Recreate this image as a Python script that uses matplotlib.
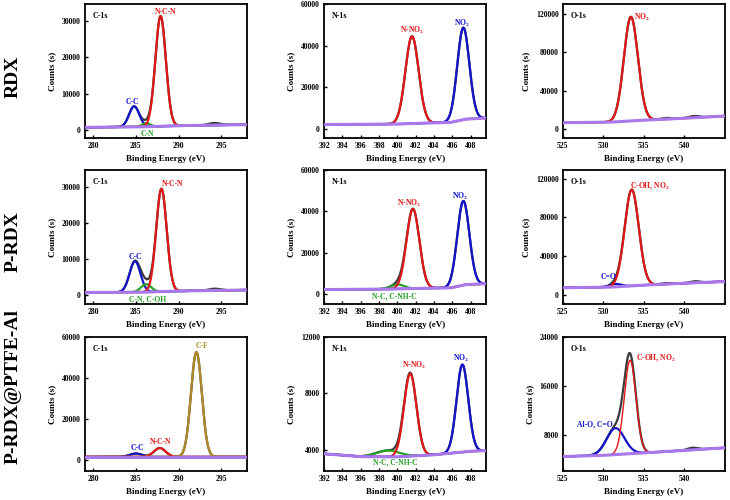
import numpy as np
import matplotlib
matplotlib.use('Agg')
import matplotlib.pyplot as plt

plt.rcParams['font.family'] = ['Liberation Serif', 'DejaVu Serif']
plt.rcParams['font.weight'] = 'bold'
plt.rcParams['mathtext.fontset'] = 'stix'
plt.rcParams['mathtext.default'] = 'bf'

BLUE = '#1414c8'
RED = '#e01818'
GREEN = '#28a028'
OLIVE = '#b08a2a'
PURPLE = '#a878ec'
DATA = '#3a3a3a'

samples = ['RDX', 'P-RDX', 'P-RDX@PTFE-Al']
regions = ['C-1s', 'N-1s', 'O-1s']

# axis ranges and ticks per region
xlims = {'C-1s': (279, 298), 'N-1s': (392, 409.7), 'O-1s': (525, 545)}
xticks = {'C-1s': [280, 285, 290, 295],
          'N-1s': [392, 394, 396, 398, 400, 402, 404, 406, 408],
          'O-1s': [525, 530, 535, 540]}
ylims = [[(-2300, 34800), (-4500, 60000), (-9000, 130000)],
         [(-2500, 34800), (-4800, 60000), (-9500, 129000)],
         [(-5300, 60000), (2500, 12000), (2200, 24000)]]
yticks = [[[0, 10000, 20000, 30000], [0, 20000, 40000, 60000], [0, 40000, 80000, 120000]],
          [[0, 10000, 20000, 30000], [0, 20000, 40000, 60000], [0, 40000, 80000, 120000]],
          [[0, 20000, 40000, 60000], [4000, 8000, 12000], [8000, 16000, 24000]]]

# Shirley-type background, read at a few energies
bg_x = [[[279, 286, 288.5, 291, 298], [392, 400, 404, 405.8, 407.5, 409.7], [525, 531, 535, 540, 545]],
        [[279, 286, 288.5, 291, 298], [392, 399, 404, 405.8, 407.5, 409.7], [525, 531, 535, 540, 545]],
        [[279, 290, 298], [392, 396, 400, 404, 408, 409.7], [525, 530, 535, 540, 545]]]
bg_y = [[[650, 800, 1000, 1150, 1400], [2000, 2200, 2800, 3000, 4600, 5100], [6900, 7500, 9500, 11500, 13800]],
        [[700, 800, 1000, 1150, 1400], [2200, 2400, 2900, 3000, 4600, 5000], [7300, 8000, 10000, 12000, 13700]],
        [[1600, 1600, 1600], [3720, 3520, 3500, 3650, 3900, 3950], [4550, 4750, 5150, 5550, 5980]]]

# fitted components: centre (eV), height above background, FWHM (eV), colour
peaks = [
    [[(284.8, 5700, 1.4, BLUE), (286.2, 1000, 1.1, GREEN), (287.9, 30500, 1.45, RED)],
     [(401.6, 42000, 1.7, RED), (407.2, 44300, 1.55, BLUE)],
     [(533.4, 108000, 2.05, RED)]],
    [[(284.9, 8600, 1.5, BLUE), (286.2, 2200, 1.4, GREEN), (288.0, 28600, 1.45, RED)],
     [(400.0, 2200, 1.7, GREEN), (401.7, 38500, 1.65, RED), (407.2, 40700, 1.55, BLUE)],
     [(531.5, 3000, 1.6, BLUE), (533.5, 99500, 2.05, RED)]],
    [[(285.0, 1600, 1.7, BLUE), (287.8, 4300, 1.6, RED), (292.1, 51000, 1.5, OLIVE)],
     [(399.0, 450, 3.0, GREEN), (401.4, 5850, 1.6, RED), (407.1, 6200, 1.5, BLUE)],
     [(531.5, 4300, 2.6, BLUE), (533.3, 15200, 1.7, RED)]],
]
# small satellites only seen in the measured curve
satellites = [
    [[(294.2, 600, 1.6)], [], [(537.8, 1200, 1.5), (541.2, 1800, 1.5)]],
    [[(294.2, 500, 1.6)], [], [(537.8, 1000, 1.5), (541.3, 1600, 1.5)]],
    [[], [], [(541.0, 350, 1.5)]],
]

# peak labels: text, x, y, colour, ha
labels = [
    [[('N-C-N', 288.5, 32600, RED, 'center'), ('C-C', 284.6, 7600, BLUE, 'center'), ('C-N', 286.3, -1300, GREEN, 'center')],
     [('N-NO$_2$', 401.6, 47500, RED, 'center'), ('NO$_2$', 407.1, 50500, BLUE, 'center')],
     [('NO$_2$', 533.8, 116000, RED, 'left')]],
    [[('N-C-N', 289.3, 30800, RED, 'center'), ('C-C', 284.9, 10600, BLUE, 'center'), ('C-N, C-OH', 286.4, -1100, GREEN, 'center')],
     [('N-NO$_2$', 401.3, 44000, RED, 'center'), ('NO$_2$', 406.8, 47200, BLUE, 'center'), ('N-C, C-NH-C', 399.7, -1300, GREEN, 'center')],
     [('C-OH, NO$_2$', 535.8, 112500, RED, 'center'), ('C=O', 530.6, 18500, BLUE, 'center')]],
    [[('C-F', 292.7, 55500, OLIVE, 'center'), ('N-C-N', 287.9, 8900, RED, 'center'), ('C-C', 285.2, 6000, BLUE, 'center')],
     [('N-NO$_2$', 401.8, 10000, RED, 'center'), ('NO$_2$', 407.0, 10500, BLUE, 'center'), ('N-C, C-NH-C', 399.8, 3080, GREEN, 'center')],
     [('C-OH, NO$_2$', 536.5, 20500, RED, 'center'), ('Al-O, C=O', 528.9, 9800, BLUE, 'center')]],
]


def gauss(x, c, h, w):
    s = w / 2.3548
    return h * np.exp(-0.5 * ((x - c) / s) ** 2)


fig = plt.figure(figsize=(7.3, 5.0), dpi=100)
lefts = [0.116, 0.444, 0.771]
bottoms = [0.724, 0.392, 0.058]
W, H = 0.222, 0.268
label_y = [0.846, 0.516, 0.226]

for r in range(3):
    for c in range(3):
        reg = regions[c]
        ax = fig.add_axes([lefts[c], bottoms[r], W, H])
        x = np.linspace(xlims[reg][0], xlims[reg][1], 800)
        bg = np.interp(x, bg_x[r][c], bg_y[r][c])
        total = bg.copy()
        for p in peaks[r][c]:
            total += gauss(x, p[0], p[1], p[2])
        for s in satellites[r][c]:
            total += gauss(x, s[0], s[1], s[2])
        ax.plot(x, total, color=DATA, lw=1.6, zorder=2)
        for p in peaks[r][c]:
            lw = 1.0 if (r == 2 and c == 2 and p[3] == RED) else 1.6
            ax.plot(x, bg + gauss(x, p[0], p[1], p[2]), color=p[3], lw=lw, zorder=3)
        ax.plot(bg_x[r][c], bg_y[r][c], color=PURPLE, lw=2.2, zorder=4)

        for t, tx, ty, col, ha in labels[r][c]:
            ax.text(tx, ty, t, color=col, ha=ha, va='center', fontsize=5.5, fontweight='bold')
        ax.text(0.05, 0.91, reg, transform=ax.transAxes, va='center', fontsize=5.8, fontweight='bold')

        ax.set_xlim(xlims[reg])
        ax.set_ylim(ylims[r][c])
        ax.set_xticks(xticks[reg])
        ax.set_yticks(yticks[r][c])
        ax.tick_params(direction='in', length=2.5, width=1, labelsize=5.5, pad=3)
        for sp in ax.spines.values():
            sp.set_linewidth(1.3)
        ax.set_xlabel('Binding Energy (eV)', fontsize=6.5, fontweight='bold', labelpad=3.5)
        ax.set_ylabel('Counts (s)', fontsize=6.5, fontweight='bold', labelpad=4)

    fig.text(0.018, label_y[r], samples[r], rotation=90, ha='center', va='center',
             fontsize=14, fontweight='bold')

fig.savefig('out.png', dpi=100)
